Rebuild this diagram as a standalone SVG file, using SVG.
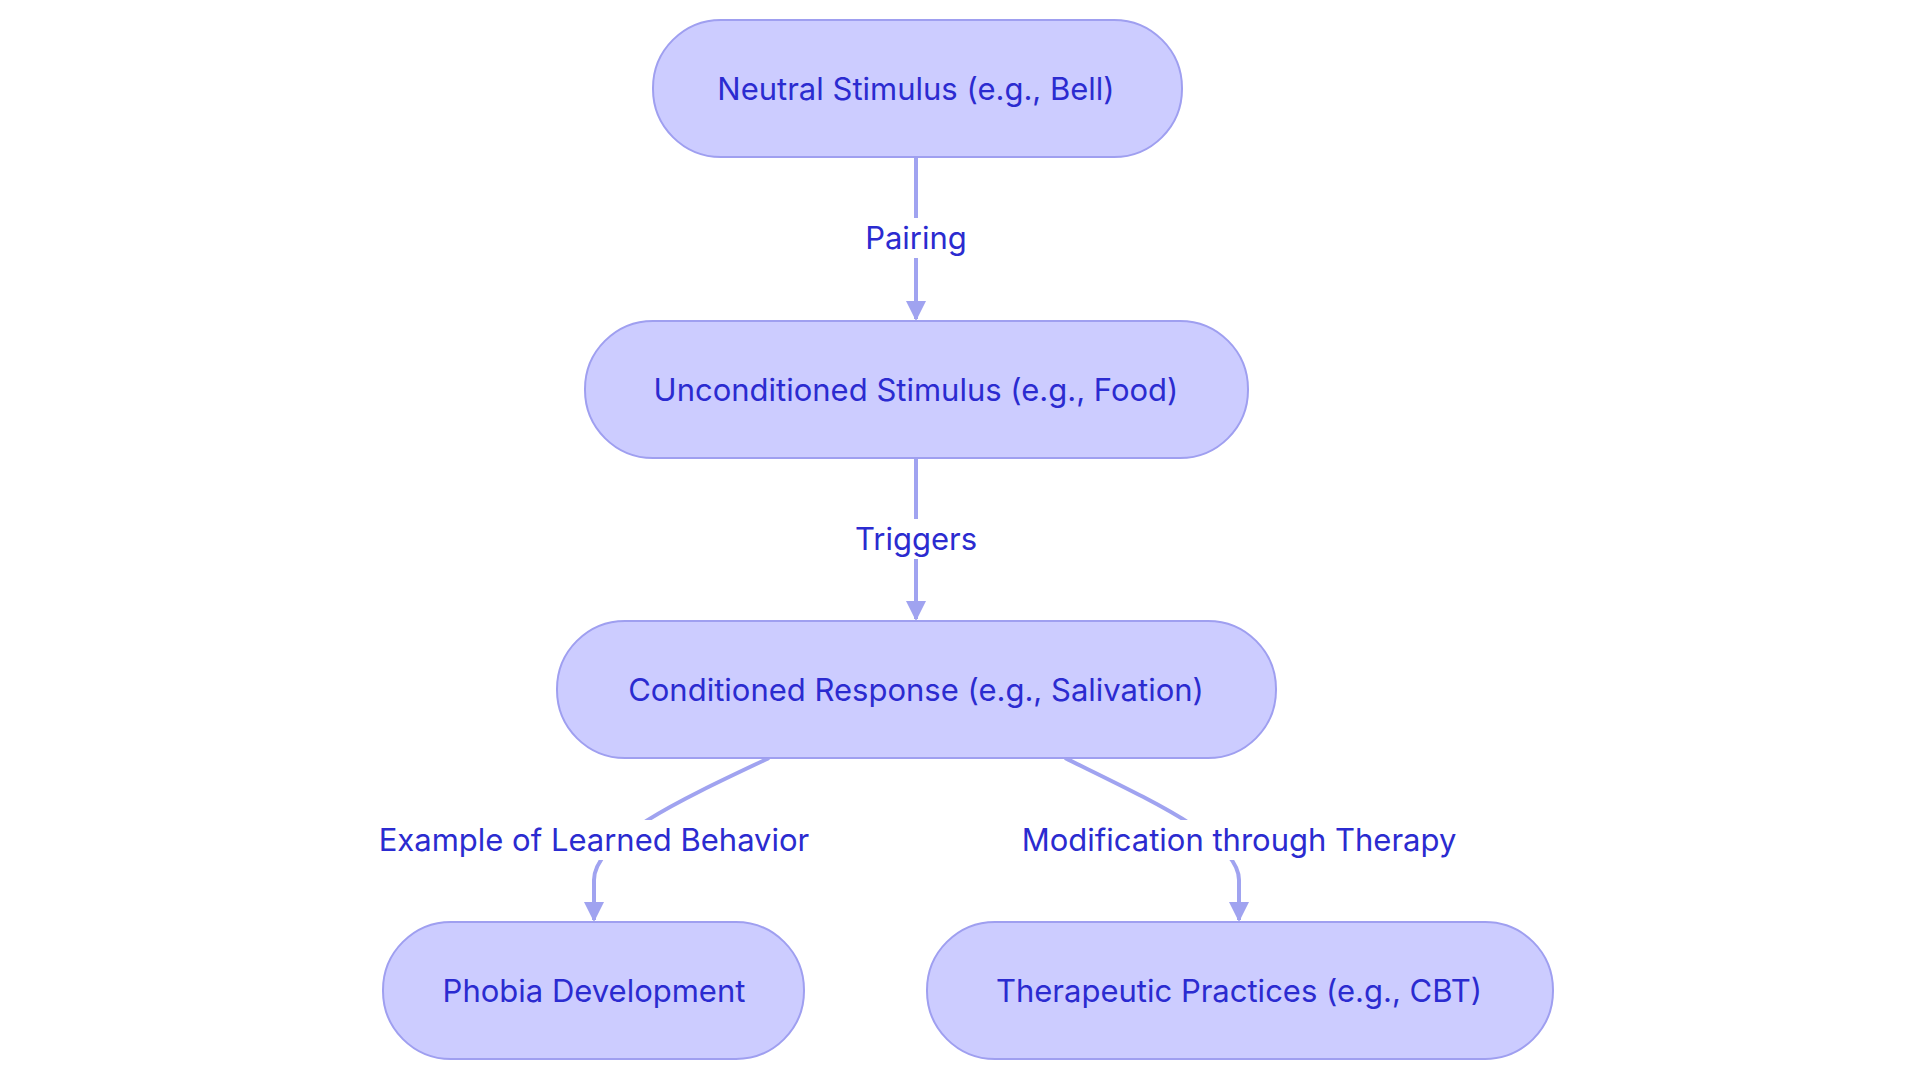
<svg xmlns="http://www.w3.org/2000/svg" width="1920" height="1083" viewBox="0 0 1920 1083">
<style>
.n{fill:#ccccff;stroke:#9f9ff0;stroke-width:2}
.t{font-family:Inter,"Noto Sans",sans-serif;font-size:31px;fill:#2b2bd0;text-anchor:middle;dominant-baseline:central}
.e{fill:none;stroke:#a0a3f0;stroke-width:4}
.lb{fill:#ffffff}
</style>
<defs><marker id="a" viewBox="0 0 10 10" refX="9" refY="5" markerWidth="5" markerHeight="5" orient="auto" markerUnits="strokeWidth"><path d="M0,0L10,5L0,10z" fill="#a0a3f0"/></marker></defs>
<rect width="1920" height="1083" fill="#fff"/>
<g id="edges">
<path class="e" d="M916,157V319" marker-end="url(#a)"/>
<path class="e" d="M916,458V619" marker-end="url(#a)"/>
<path class="e" d="M769,758C680,800 594,840 594,880V920" marker-end="url(#a)"/>
<path class="e" d="M1065,758C1150,800 1239,840 1239,880V920" marker-end="url(#a)"/>
<rect class="lb" x="860" y="218" width="112" height="40"/><text class="t" x="916" y="237">Pairing</text>
<rect class="lb" x="850" y="519" width="132" height="40"/><text class="t" x="916" y="538">Triggers</text>
<rect class="lb" x="366" y="820" width="456" height="40"/><text class="t" x="594" y="839">Example of Learned Behavior</text>
<rect class="lb" x="1006" y="820" width="466" height="40"/><text class="t" x="1239" y="839">Modification through Therapy</text>
</g>
<g id="n1"><rect class="n" x="653" y="20" width="529" height="137" rx="68"/><text class="t" x="916" y="88">Neutral Stimulus (e.g., Bell)</text></g>
<g id="n2"><rect class="n" x="585" y="321" width="663" height="137" rx="68"/><text class="t" x="916" y="389">Unconditioned Stimulus (e.g., Food)</text></g>
<g id="n3"><rect class="n" x="557" y="621" width="719" height="137" rx="68"/><text class="t" x="916" y="689">Conditioned Response (e.g., Salivation)</text></g>
<g id="n4"><rect class="n" x="383" y="922" width="421" height="137" rx="68"/><text class="t" x="594" y="990">Phobia Development</text></g>
<g id="n5"><rect class="n" x="927" y="922" width="626" height="137" rx="68"/><text class="t" x="1239" y="990">Therapeutic Practices (e.g., CBT)</text></g>
</svg>
